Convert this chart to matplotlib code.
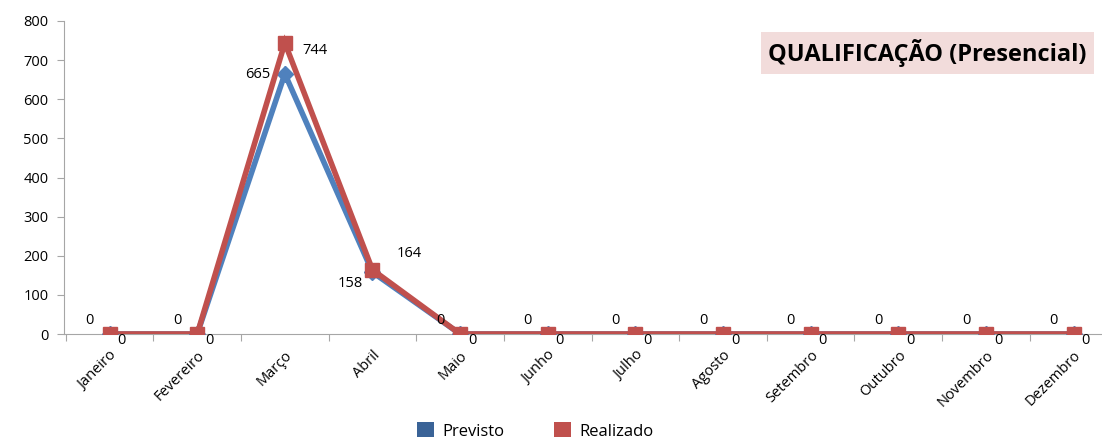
import matplotlib
matplotlib.use("Agg")
import matplotlib.pyplot as plt
from matplotlib.patches import Patch

months = ["Janeiro", "Fevereiro", "Março", "Abril", "Maio", "Junho", "Julho",
          "Agosto", "Setembro", "Outubro", "Novembro", "Dezembro"]
previsto = [0, 0, 665, 158, 0, 0, 0, 0, 0, 0, 0, 0]
realizado = [0, 0, 744, 164, 0, 0, 0, 0, 0, 0, 0, 0]
yticks = [0, 100, 200, 300, 400, 500, 600, 700, 800]
title = "QUALIFICAÇÃO (Presencial)"

blue = "#4F81BD"
blue_dark = "#3A6397"
red = "#C0504D"
grey = "#A6A6A6"

plt.rcParams['font.family'] = ['Open Sans', 'DejaVu Sans']

fig = plt.figure(figsize=(11.02, 4.41), dpi=100)
W, H = 1102, 441
x0_px, x1_px = 64.0, 1117.4
y0_px, y1_px = 334, 21
ax = fig.add_axes([x0_px / W, (H - y0_px) / H, (x1_px - x0_px) / W, (y0_px - y1_px) / H])

x = list(range(len(months)))
ax.plot(x, previsto, color=blue, lw=4, marker='D', ms=8, mec=blue, mfc=blue,
        solid_joinstyle='miter', zorder=3)
ax.plot(x, realizado, color=red, lw=4, marker='s', ms=10, mec=red, mfc=red,
        solid_joinstyle='miter', zorder=4)

ax.set_xlim(-0.52, 11.5)
ax.set_ylim(0, 800)
ax.set_yticks(yticks)
ax.set_yticklabels([str(v) for v in yticks], fontsize=10.5)
ax.set_xticks([i + 0.5 for i in range(-1, 12)])
ax.set_xticklabels([])
ax.set_xticks(x, minor=True)
ax.set_xticklabels(months, minor=True, rotation=45, ha='right', va='top',
                   rotation_mode='anchor', fontsize=10.5)
ax.tick_params(axis='x', which='minor', length=0, pad=10)
ax.tick_params(axis='x', which='major', length=5, color=grey, direction='out')
ax.tick_params(axis='y', length=5, color=grey, direction='out', pad=6)

for s in ['top', 'right']:
    ax.spines[s].set_visible(False)
ax.spines['left'].set_color(grey)
ax.spines['bottom'].set_color(grey)
ax.spines['bottom'].set_zorder(2)

# data labels
prev_off = [(-20, 14), (-20, 14), (-27, -1), (-22, -11), (-20, 14), (-20, 14),
            (-20, 14), (-20, 14), (-20, 14), (-20, 14), (-20, 14), (-20, 14)]
real_off = [(12, -6), (12, -6), (30, -8), (37, 16), (12, -6), (12, -6),
            (12, -6), (12, -6), (12, -6), (12, -6), (12, -6), (12, -6)]
for i, v in enumerate(previsto):
    ax.annotate(str(v), (i, v), xytext=prev_off[i], textcoords='offset pixels',
                ha='center', va='center', fontsize=10.5, annotation_clip=False, zorder=5)
for i, v in enumerate(realizado):
    ax.annotate(str(v), (i, v), xytext=real_off[i], textcoords='offset pixels',
                ha='center', va='center', fontsize=10.5, annotation_clip=False, zorder=5)

fig.text(1087 / W, (H - 53) / H, title, ha='right', va='center', fontsize=17,
         fontweight='bold',
         bbox=dict(boxstyle='square,pad=0.3', fc='#F2DCDB', ec='none'))

handles = [Patch(fc=blue_dark, ec='none', label='Previsto'),
           Patch(fc=red, ec='none', label='Realizado')]
fig.legend(handles=handles, loc='center', bbox_to_anchor=(535 / W, (H - 431) / H),
           ncol=2, frameon=False, fontsize=12, handlelength=1.0, handleheight=1.0,
           columnspacing=3.0, handletextpad=0.5)

fig.savefig("out.png", dpi=100)
